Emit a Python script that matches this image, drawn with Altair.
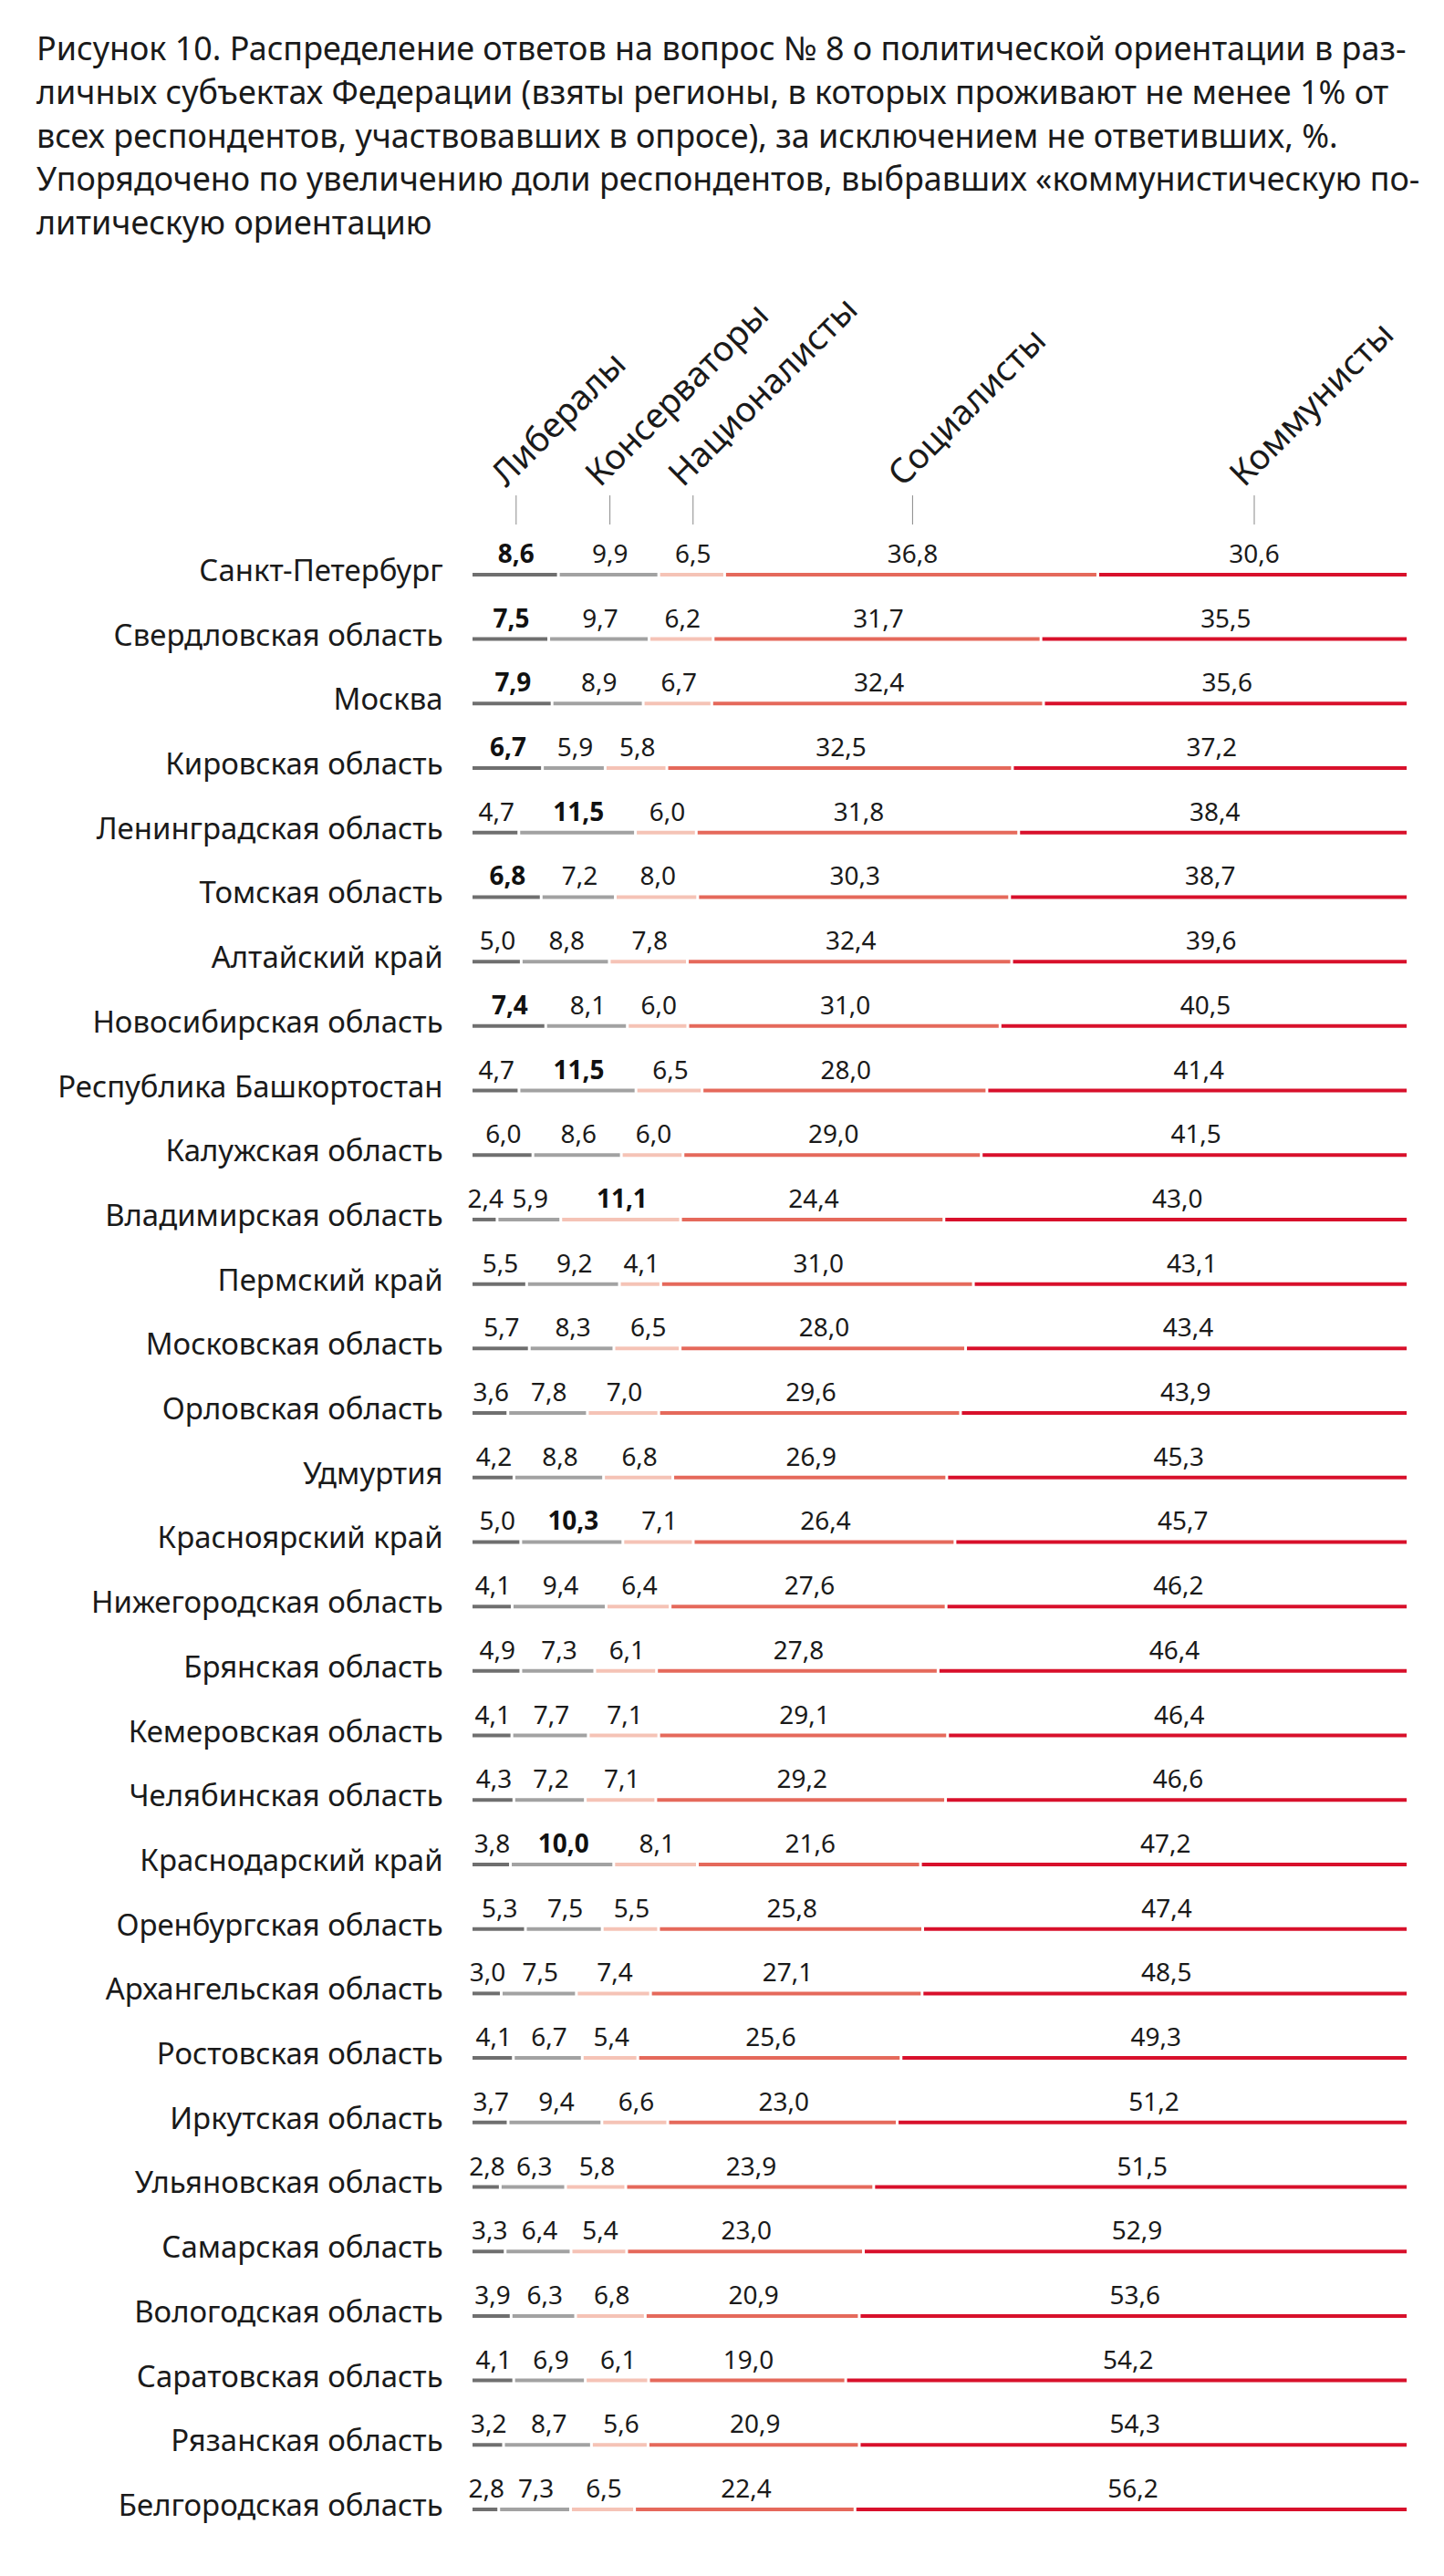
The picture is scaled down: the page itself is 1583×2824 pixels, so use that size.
import altair as alt
import pandas as pd

regions = [
    "Санкт-Петербург", "Свердловская область", "Москва", "Кировская область",
    "Ленинградская область", "Томская область", "Алтайский край",
    "Новосибирская область", "Республика Башкортостан", "Калужская область",
    "Владимирская область", "Пермский край", "Московская область",
    "Орловская область", "Удмуртия", "Красноярский край",
    "Нижегородская область", "Брянская область", "Кемеровская область",
    "Челябинская область", "Краснодарский край", "Оренбургская область",
    "Архангельская область", "Ростовская область", "Иркутская область",
    "Ульяновская область", "Самарская область", "Вологодская область",
    "Саратовская область", "Рязанская область", "Белгородская область",
]
parties = ["Либералы", "Консерваторы", "Националисты", "Социалисты", "Коммунисты"]
colors = ["#6f6f6f", "#a2a2a2", "#f5c3b6", "#e5695b", "#d8102b"]

liberals = [8.6, 7.5, 7.9, 6.7, 4.7, 6.8, 5.0, 7.4, 4.7, 6.0, 2.4, 5.5, 5.7, 3.6, 4.2, 5.0,
            4.1, 4.9, 4.1, 4.3, 3.8, 5.3, 3.0, 4.1, 3.7, 2.8, 3.3, 3.9, 4.1, 3.2, 2.8]
conservatives = [9.9, 9.7, 8.9, 5.9, 11.5, 7.2, 8.8, 8.1, 11.5, 8.6, 5.9, 9.2, 8.3, 7.8, 8.8, 10.3,
                 9.4, 7.3, 7.7, 7.2, 10.0, 7.5, 7.5, 6.7, 9.4, 6.3, 6.4, 6.3, 6.9, 8.7, 7.3]
nationalists = [6.5, 6.2, 6.7, 5.8, 6.0, 8.0, 7.8, 6.0, 6.5, 6.0, 11.1, 4.1, 6.5, 7.0, 6.8, 7.1,
                6.4, 6.1, 7.1, 7.1, 8.1, 5.5, 7.4, 5.4, 6.6, 5.8, 5.4, 6.8, 6.1, 5.6, 6.5]
socialists = [36.8, 31.7, 32.4, 32.5, 31.8, 30.3, 32.4, 31.0, 28.0, 29.0, 24.4, 31.0, 28.0, 29.6, 26.9, 26.4,
              27.6, 27.8, 29.1, 29.2, 21.6, 25.8, 27.1, 25.6, 23.0, 23.9, 23.0, 20.9, 19.0, 20.9, 22.4]
communists = [30.6, 35.5, 35.6, 37.2, 38.4, 38.7, 39.6, 40.5, 41.4, 41.5, 43.0, 43.1, 43.4, 43.9, 45.3, 45.7,
              46.2, 46.4, 46.4, 46.6, 47.2, 47.4, 48.5, 49.3, 51.2, 51.5, 52.9, 53.6, 54.2, 54.3, 56.2]
# party whose value is printed in bold in each row ("" = none)
bold_party = ["Либералы", "Либералы", "Либералы", "Либералы", "Консерваторы", "Либералы", "",
              "Либералы", "Консерваторы", "", "Националисты", "", "", "", "", "Консерваторы",
              "", "", "", "", "Консерваторы", "", "", "", "", "", "", "", "", "", ""]

title_lines = [
    "Рисунок 10. Распределение ответов на вопрос № 8 о политической ориентации в раз-",
    "личных субъектах Федерации (взяты регионы, в которых проживают не менее 1% от",
    "всех респондентов, участвовавших в опросе), за исключением не ответивших, %.",
    "Упорядочено по увеличению доли респондентов, выбравших «коммунистическую по-",
    "литическую ориентацию",
]

series = [liberals, conservatives, nationalists, socialists, communists]
rows = []
for i, reg in enumerate(regions):
    vals = [s[i] for s in series]
    total = sum(vals)
    cum = 0.0
    for p, v in zip(parties, vals):
        start = cum / total
        end = (cum + v) / total
        rows.append({
            "region": reg,
            "party": p,
            "value": v,
            "start": start,
            "end": end,
            "mid": (start + end) / 2,
            "label": f"{v:.1f}".replace(".", ","),
            "bold": bold_party[i] == p,
        })
        cum += v
df = pd.DataFrame(rows)

FONT = "Noto Sans"
W = 1029
H = 2196

xs = alt.Scale(domain=[0, 1], range=[0, W])
y_enc = alt.Y(
    "region:N", sort=regions,
    scale=alt.Scale(paddingInner=0, paddingOuter=0),
    axis=alt.Axis(title=None, domain=False, ticks=False, labelFontSize=33,
                  labelFont=FONT, labelColor="#1a1a1a", labelPadding=33,
                  labelLimit=0, labelOffset=-3),
)

base = alt.Chart(df)

bars = base.mark_bar(height=4, x2Offset=-3).encode(
    x=alt.X("start:Q", scale=xs, axis=None),
    x2="end:Q",
    y=y_enc,
    color=alt.Color("party:N", scale=alt.Scale(domain=parties, range=colors), legend=None),
)

values_normal = base.transform_filter(alt.datum.bold == False).mark_text(
    fontSize=28, font=FONT, dy=-13, baseline="alphabetic", color="#1a1a1a"
).encode(
    x=alt.X("mid:Q", scale=xs, axis=None),
    y=y_enc,
    text="label:N",
)

values_bold = base.transform_filter(alt.datum.bold == True).mark_text(
    fontSize=28, font=FONT, dy=-13, baseline="alphabetic", color="#111111", fontWeight="bold"
).encode(
    x=alt.X("mid:Q", scale=xs, axis=None),
    y=y_enc,
    text="label:N",
)

first = base.transform_filter(alt.datum.region == regions[0])

ticks = first.mark_rule(color="#8a8a8a", strokeWidth=1, yOffset=-87, y2Offset=-55).encode(
    x=alt.X("mid:Q", scale=xs, axis=None),
    y=y_enc,
    y2="region:N",
)

headers = first.mark_text(angle=315, align="left", baseline="alphabetic", fontSize=38,
                          font=FONT, color="#1a1a1a", xOffset=-11, yOffset=-95).encode(
    x=alt.X("mid:Q", scale=xs, axis=None),
    y=y_enc,
    text="party:N",
)

chart = alt.layer(bars, values_normal, values_bold, ticks, headers).properties(
    width=W,
    height=H,
    title=alt.TitleParams(text=title_lines, anchor="start", frame="group", fontSize=36,
                          font=FONT, fontWeight="normal", color="#1a1a1a", lineHeight=48,
                          dx=-479, offset=55),
    padding={"left": 511, "top": 585, "right": 30, "bottom": 20},
    autosize=alt.AutoSizeParams(type="none"),
).configure_view(stroke=None)

chart.save("out.html", embed_options={"renderer": "svg", "actions": False})
